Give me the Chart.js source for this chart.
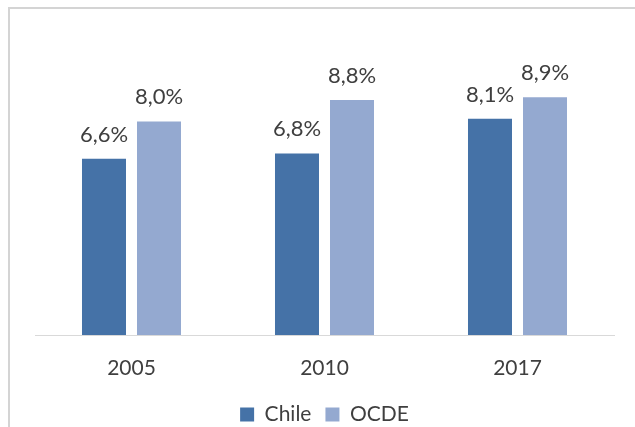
<!DOCTYPE html>
<html>
<head>
<meta charset="utf-8">
<script src="https://cdn.jsdelivr.net/npm/chart.js@4"></script>
<style>
  html, body { margin: 0; padding: 0; background: #ffffff; }
  #wrap { position: relative; width: 635px; height: 427px; }
</style>
</head>
<body>
<div id="wrap"><canvas id="barChart" width="635" height="427"></canvas></div>
<script>
const years = ['2005', '2010', '2017'];
const chileValues = [6.6, 6.8, 8.1];
const ocdeValues = [8.0, 8.8, 8.9];

const textColor = '#3f3f3f';

// light frame on the top and left edges
const framePlugin = {
    id: 'frame',
    beforeDraw(chart) {
        const ctx = chart.ctx;
        ctx.save();
        ctx.strokeStyle = '#d4d4d4';
        ctx.lineWidth = 2;
        ctx.beginPath();
        ctx.moveTo(9, chart.height);
        ctx.lineTo(9, 8);
        ctx.lineTo(chart.width, 8);
        ctx.stroke();
        ctx.restore();
    }
};

// keep the legend strip a fixed height
const legendHeight = {
    id: 'legendHeight',
    beforeLayout(chart) {
        const legend = chart.legend;
        if (legend && !legend._patched) {
            const origFit = legend.fit;
            legend.fit = function () {
                origFit.call(this);
                this.height = 37;
            };
            legend._patched = true;
        }
    }
};

// value labels over each bar, with a decimal comma
const valueLabels = {
    id: 'valueLabels',
    afterDatasetsDraw(chart) {
        const ctx = chart.ctx;
        ctx.save();
        ctx.font = '22px Lato';
        ctx.fillStyle = textColor;
        ctx.textAlign = 'center';
        ctx.textBaseline = 'alphabetic';
        chart.data.datasets.forEach((ds, i) => {
            chart.getDatasetMeta(i).data.forEach((bar, j) => {
                const txt = ds.data[j].toFixed(1).replace('.', ',') + '%';
                ctx.fillText(txt, bar.x, bar.y - 17);
            });
        });
        ctx.restore();
    }
};

const ctx = document.getElementById('barChart').getContext('2d');
new Chart(ctx, {
    type: 'bar',
    data: {
        labels: years,
        datasets: [{
            label: 'Chile',
            data: chileValues,
            backgroundColor: '#4572a7',
            borderWidth: 0
        }, {
            label: 'OCDE',
            data: ocdeValues,
            backgroundColor: '#94a9d0',
            borderWidth: 0
        }]
    },
    options: {
        responsive: false,
        animation: false,
        layout: {
            padding: { top: 68, left: 35, right: 21, bottom: 0 }
        },
        datasets: {
            bar: {
                categoryPercentage: 0.57,
                barPercentage: 0.8
            }
        },
        scales: {
            x: {
                grid: { display: false },
                border: { display: true, color: '#d9d9d9', width: 1 },
                ticks: {
                    color: textColor,
                    font: { family: 'Lato', size: 21 },
                    padding: 13
                },
                afterFit(scale) {
                    scale.height = 55;
                }
            },
            y: {
                display: false,
                min: 0,
                max: 10
            }
        },
        plugins: {
            legend: {
                position: 'bottom',
                labels: {
                    color: textColor,
                    font: { family: 'Lato', size: 21 },
                    boxWidth: 14,
                    boxHeight: 14,
                    padding: 14
                }
            },
            tooltip: { enabled: false }
        }
    },
    plugins: [framePlugin, legendHeight, valueLabels]
});
</script>
</body>
</html>
